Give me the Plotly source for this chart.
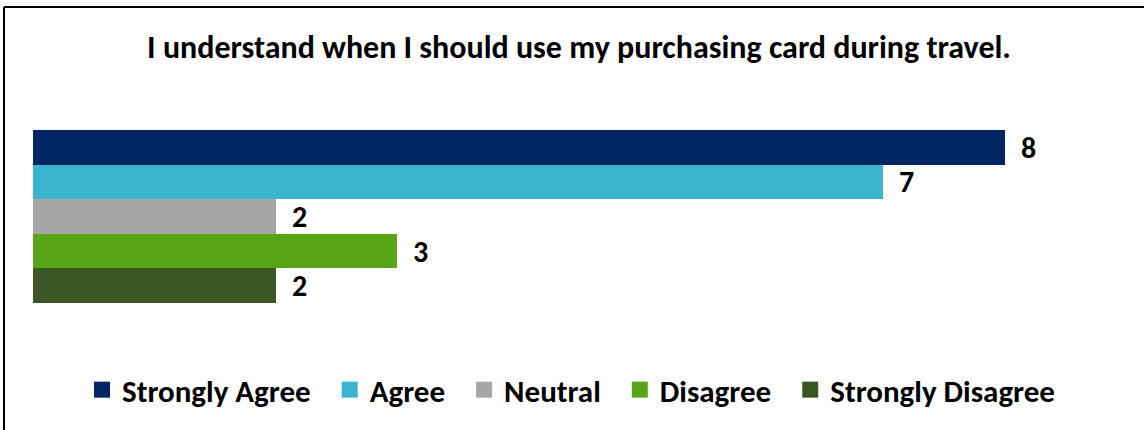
import plotly.graph_objects as go

# Survey responses
title_text = "I understand when I should use my purchasing card during travel."
responses = ["Strongly Agree", "Agree", "Neutral", "Disagree", "Strongly Disagree"]
counts = [8, 7, 2, 3, 2]
colors = ["#002664", "#3BB5CE", "#A6A6A6", "#58A618", "#3A5723"]

FONT = "Calibri, Carlito, Lato, sans-serif"
W, H = 1144, 430
ML, MR, MT, MB = 33, 17.5, 130, 127
X_MAX = 9
GAP = "\u00a0\u00a0"  # extra room between legend entries

fig = go.Figure()

for name, val, col in zip(responses, counts, colors):
    # one row per response, bars fill their row
    fig.add_trace(go.Bar(
        y=[name], x=[val], orientation="h", width=1,
        marker=dict(color=col, line=dict(width=0)),
        showlegend=False, hoverinfo="x+name", name=name,
    ))
    # legend swatch
    fig.add_trace(go.Scatter(
        x=[None], y=[None], mode="markers", name=name + GAP,
        marker=dict(symbol="square", size=17, color=col),
        showlegend=True,
    ))
    fig.add_annotation(
        x=val, y=name, text=str(val), showarrow=False,
        xanchor="left", yanchor="middle", xshift=14,
        font=dict(family=FONT, size=30, color="black", weight="bold"),
    )

pw = W - ML - MR
ph = H - MT - MB

def px_x(p):
    return (p - ML) / pw

def px_y(p):
    return (H - MB - p) / ph

# frame lines along the top and left edges
fig.add_shape(type="line", xref="paper", yref="paper",
              x0=px_x(4), x1=px_x(W + 5), y0=px_y(7), y1=px_y(7),
              line=dict(color="black", width=2))
fig.add_shape(type="line", xref="paper", yref="paper",
              x0=px_x(4), x1=px_x(4), y0=px_y(7), y1=px_y(H + 5),
              line=dict(color="black", width=2))

fig.update_layout(
    width=W, height=H,
    margin=dict(l=ML, r=MR, t=MT, b=MB, pad=0, autoexpand=False),
    paper_bgcolor="white", plot_bgcolor="white",
    barmode="overlay", bargap=0,
    title=dict(text=title_text, x=579 / W, xanchor="center", xref="container",
               y=1 - 47 / H, yanchor="middle", yref="container",
               font=dict(family=FONT, size=32, color="black", weight="bold")),
    xaxis=dict(range=[0, X_MAX], visible=False, fixedrange=True),
    yaxis=dict(range=[len(responses) - 0.5, -0.5], visible=False, categoryorder="array",
               categoryarray=responses, fixedrange=True),
    legend=dict(orientation="h", x=px_x(82), xanchor="left", y=px_y(390), yanchor="middle",
                font=dict(family=FONT, size=31, color="black", weight="bold"),
                itemsizing="trace", bgcolor="rgba(0,0,0,0)"),
    showlegend=True,
)

fig.write_html("out.html")
